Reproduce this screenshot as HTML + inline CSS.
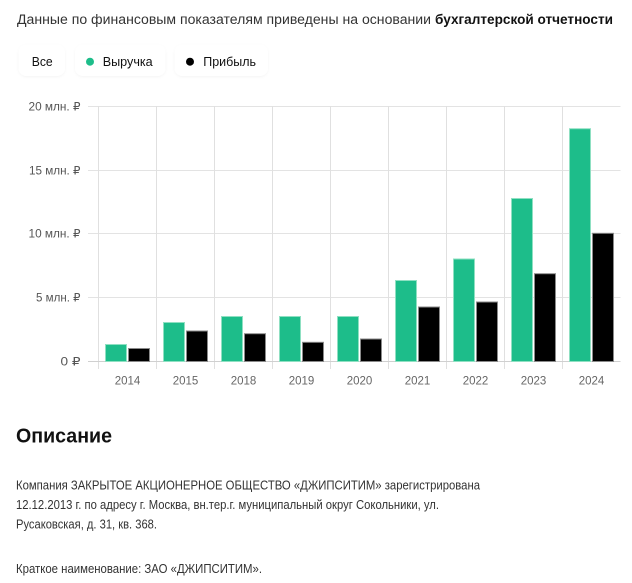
<!DOCTYPE html>
<html>
<head>
<meta charset="utf-8">
<style>
  html, body { margin: 0; padding: 0; background: #fff; }
  svg { display: block; }
  text { font-family: "Liberation Sans", "DejaVu Sans", sans-serif; }
</style>
</head>
<body>
<svg width="632" height="583" viewBox="0 0 632 583" xmlns="http://www.w3.org/2000/svg">
  <defs>
    <filter id="sh" x="-20%" y="-40%" width="140%" height="180%">
      <feDropShadow dx="0" dy="1" stdDeviation="1.2" flood-color="#000" flood-opacity="0.045"/>
    </filter>
  </defs>
  <rect width="632" height="583" fill="#fff"/>

  <!-- header -->
  <text x="17" y="24" font-size="13.5" fill="#333" textLength="414" lengthAdjust="spacingAndGlyphs">Данные по финансовым показателям приведены на основании</text>
  <text x="435" y="24" font-size="13.5" font-weight="bold" fill="#111" textLength="178" lengthAdjust="spacingAndGlyphs">бухгалтерской отчетности</text>

  <!-- legend buttons -->
  <rect x="18.5" y="44.5" width="46.5" height="31.5" rx="8" fill="#fff" filter="url(#sh)"/>
  <rect x="75" y="44.5" width="90.5" height="31.5" rx="8" fill="#fff" filter="url(#sh)"/>
  <rect x="174.5" y="44.5" width="93.5" height="31.5" rx="8" fill="#fff" filter="url(#sh)"/>
  <text x="31.7" y="66" font-size="13" fill="#111" textLength="21" lengthAdjust="spacingAndGlyphs">Все</text>
  <circle cx="90" cy="61.7" r="4" fill="#1dbd8a"/>
  <text x="102.7" y="66" font-size="13" fill="#111" textLength="50" lengthAdjust="spacingAndGlyphs">Выручка</text>
  <circle cx="190" cy="61.7" r="4" fill="#000"/>
  <text x="203.3" y="66" font-size="13" fill="#111" textLength="52.7" lengthAdjust="spacingAndGlyphs">Прибыль</text>

  <!-- grid horizontal -->
  <g stroke="#e3e3e3" stroke-width="1">
    <line x1="88" y1="106.5" x2="620.5" y2="106.5"/>
    <line x1="88" y1="170.5" x2="620.5" y2="170.5"/>
    <line x1="88" y1="233.5" x2="620.5" y2="233.5"/>
    <line x1="88" y1="297.5" x2="620.5" y2="297.5"/>
  </g>
  <!-- grid vertical -->
  <g stroke="#e0e0e0" stroke-width="1">
    <line x1="98.5" y1="106" x2="98.5" y2="369"/>
    <line x1="156.5" y1="106" x2="156.5" y2="369"/>
    <line x1="214.5" y1="106" x2="214.5" y2="369"/>
    <line x1="272.5" y1="106" x2="272.5" y2="369"/>
    <line x1="330.5" y1="106" x2="330.5" y2="369"/>
    <line x1="388.5" y1="106" x2="388.5" y2="369"/>
    <line x1="446.5" y1="106" x2="446.5" y2="369"/>
    <line x1="504.5" y1="106" x2="504.5" y2="369"/>
    <line x1="562.5" y1="106" x2="562.5" y2="369"/>
  </g>
  <line x1="88" y1="361.5" x2="620.5" y2="361.5" stroke="#d0d0d0" stroke-width="1"/>

  <!-- y labels -->
  <g font-size="11.5" fill="#555">
    <text x="28.5" y="110.5" textLength="52" lengthAdjust="spacingAndGlyphs">20 млн. ₽</text>
    <text x="29" y="174.5" textLength="51.5" lengthAdjust="spacingAndGlyphs">15 млн. ₽</text>
    <text x="28.5" y="237.5" textLength="52" lengthAdjust="spacingAndGlyphs">10 млн. ₽</text>
    <text x="36" y="301.5" textLength="44.5" lengthAdjust="spacingAndGlyphs">5 млн. ₽</text>
    <text x="60.5" y="365.5" textLength="20" lengthAdjust="spacingAndGlyphs">0 ₽</text>
  </g>

  <!-- x labels -->
  <g font-size="11.5" fill="#666" text-anchor="middle">
    <text x="127.5" y="384.5">2014</text>
    <text x="185.5" y="384.5">2015</text>
    <text x="243.5" y="384.5">2018</text>
    <text x="301.5" y="384.5">2019</text>
    <text x="359.5" y="384.5">2020</text>
    <text x="417.5" y="384.5">2021</text>
    <text x="475.5" y="384.5">2022</text>
    <text x="533.5" y="384.5">2023</text>
    <text x="591.5" y="384.5">2024</text>
  </g>

  <!-- bars: green -->
  <g fill="#1dbd8a" stroke="#8fe0c2" stroke-width="1">
    <rect x="105.5" y="344.5" width="21" height="17"/>
    <rect x="163.5" y="322.5" width="21" height="39"/>
    <rect x="221.5" y="316.5" width="21" height="45"/>
    <rect x="279.5" y="316.5" width="21" height="45"/>
    <rect x="337.5" y="316.5" width="21" height="45"/>
    <rect x="395.5" y="280.5" width="21" height="81"/>
    <rect x="453.5" y="259" width="21" height="102.5"/>
    <rect x="511.5" y="198.5" width="21" height="163"/>
    <rect x="569.5" y="128.7" width="21" height="232.8"/>
  </g>
  <!-- bars: black -->
  <g fill="#000" stroke="#8a8a8a" stroke-width="1">
    <rect x="128.5" y="348.5" width="21" height="13"/>
    <rect x="186.5" y="331" width="21" height="30.5"/>
    <rect x="244.5" y="333.7" width="21" height="27.8"/>
    <rect x="302.5" y="342.3" width="21" height="19.2"/>
    <rect x="360.5" y="339" width="21" height="22.5"/>
    <rect x="418.5" y="307" width="21" height="54.5"/>
    <rect x="476.5" y="302" width="21" height="59.5"/>
    <rect x="534.5" y="273.7" width="21" height="87.8"/>
    <rect x="592.5" y="233.3" width="21" height="128.2"/>
  </g>

  <!-- description -->
  <text x="16" y="442.5" font-size="20" font-weight="bold" fill="#111" textLength="96" lengthAdjust="spacingAndGlyphs">Описание</text>
  <g font-size="13.2" fill="#333">
    <text x="16" y="489.5" textLength="464" lengthAdjust="spacingAndGlyphs">Компания ЗАКРЫТОЕ АКЦИОНЕРНОЕ ОБЩЕСТВО «ДЖИПСИТИМ» зарегистрирована</text>
    <text x="16" y="509" textLength="423" lengthAdjust="spacingAndGlyphs">12.12.2013 г. по адресу г. Москва, вн.тер.г. муниципальный округ Сокольники, ул.</text>
    <text x="16" y="528.5" textLength="141" lengthAdjust="spacingAndGlyphs">Русаковская, д. 31, кв. 368.</text>
    <text x="16" y="573" textLength="246" lengthAdjust="spacingAndGlyphs">Краткое наименование: ЗАО «ДЖИПСИТИМ».</text>
  </g>
</svg>
</body>
</html>
